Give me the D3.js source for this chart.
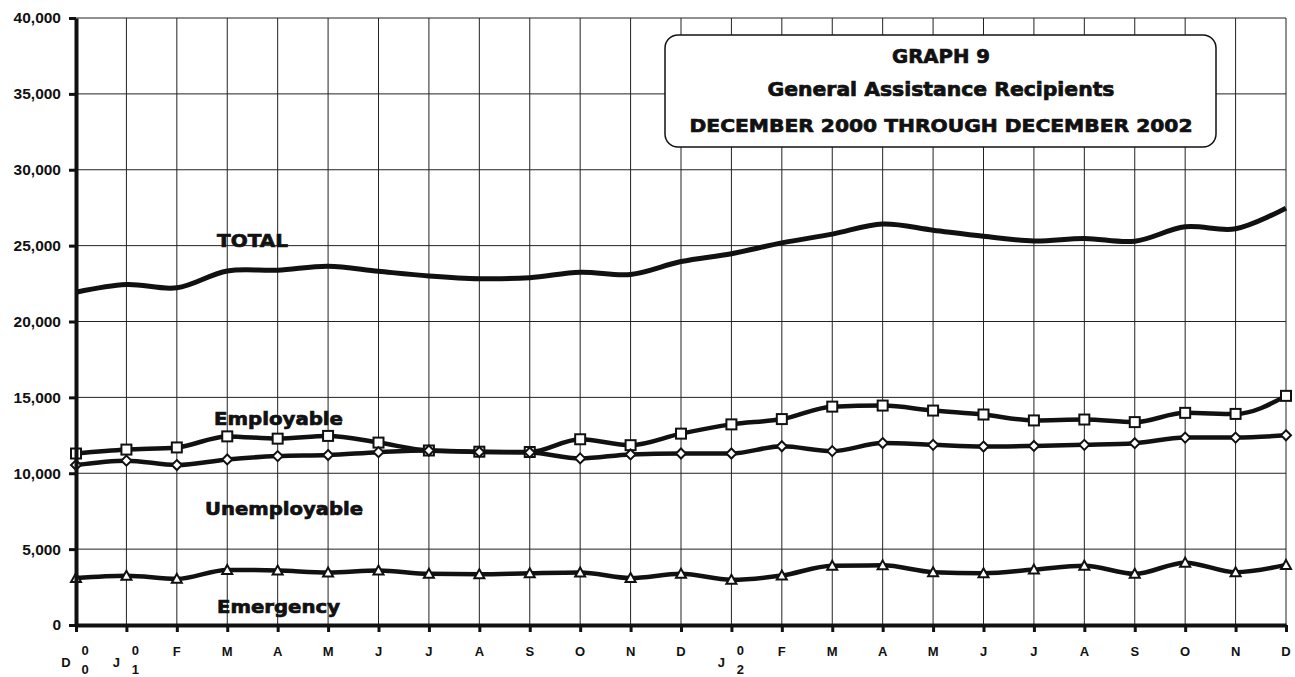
<!DOCTYPE html>
<html>
<head>
<meta charset="utf-8">
<script src="https://cdn.jsdelivr.net/npm/d3@7"></script>
<style>
  body { margin: 0; background: #fff; }
  text { fill: #111; }
</style>
</head>
<body>
<div id="chart"></div>
<script>
const width = 1295, height = 677;

// month letters along the bottom, Dec 2000 .. Dec 2002
const months = ["D","J","F","M","A","M","J","J","A","S","O","N","D","J","F","M","A","M","J","J","A","S","O","N","D"];
const yearIdx = [0, 1, 13];
const yearDigits = ["00", "01", "02"];
const yTicks = [0, 5000, 10000, 15000, 20000, 25000, 30000, 35000, 40000];

const total =        [21930, 22440, 22220, 23330, 23380, 23640, 23310, 23000, 22820, 22890, 23250, 23100, 23950, 24470, 25180, 25760, 26420, 26020, 25620, 25310, 25470, 25290, 26240, 26110, 27470];
const employable =   [11300, 11560, 11700, 12430, 12280, 12460, 12020, 11500, 11420, 11400, 12240, 11850, 12610, 13220, 13570, 14390, 14460, 14130, 13870, 13480, 13540, 13370, 13980, 13910, 15100];
const unemployable = [10540, 10830, 10540, 10910, 11130, 11200, 11390, 11500, 11400, 11370, 10980, 11240, 11300, 11300, 11780, 11460, 11990, 11870, 11760, 11800, 11870, 11980, 12350, 12350, 12500];
const emergency =    [3090, 3240, 3040, 3630, 3590, 3460, 3590, 3370, 3340, 3410, 3460, 3090, 3370, 2980, 3260, 3910, 3930, 3480, 3410, 3650, 3910, 3370, 4110, 3480, 3960];

const titleLines = ["GRAPH 9", "General Assistance Recipients", "DECEMBER 2000 THROUGH DECEMBER 2002"];

const svg = d3.select("#chart")
    .append("svg")
    .attr("width", width)
    .attr("height", height);

svg.append("rect").attr("width", width).attr("height", height).attr("fill", "#fff");

const x = d3.scaleLinear().domain([0, months.length - 1]).range([76, 1286]);
const y = d3.scaleLinear().domain([0, 40000]).range([625, 18]);

// grid
svg.append("g")
    .selectAll("line")
    .data(d3.range(1, months.length))
    .join("line")
    .attr("x1", d => x(d)).attr("x2", d => x(d))
    .attr("y1", y(40000)).attr("y2", y(0))
    .attr("stroke", "#222").attr("stroke-width", 1);

svg.append("g")
    .selectAll("line")
    .data(yTicks.slice(1))
    .join("line")
    .attr("x1", x(0)).attr("x2", x(months.length - 1))
    .attr("y1", d => y(d)).attr("y2", d => y(d))
    .attr("stroke", "#222").attr("stroke-width", 1);

// title box
const box = svg.append("g");
box.append("rect")
    .attr("x", 665).attr("y", 35)
    .attr("width", 551).attr("height", 112)
    .attr("rx", 13)
    .attr("fill", "#fff").attr("stroke", "#111").attr("stroke-width", 1.5);

const titleY = [63, 96, 132], titleW = [98, 347, 503], titleSize = [19, 19, 18.5];
box.selectAll("text")
    .data(titleLines)
    .join("text")
    .attr("x", 941)
    .attr("y", (d, i) => titleY[i])
    .attr("text-anchor", "middle")
    .attr("font-family", "DejaVu Sans, sans-serif")
    .attr("font-weight", "bold")
    .attr("font-size", (d, i) => titleSize[i])
    .attr("stroke", "#111").attr("stroke-width", 0.7)
    .attr("textLength", (d, i) => titleW[i])
    .attr("lengthAdjust", "spacingAndGlyphs")
    .text(d => d);

// lines
const smooth = d3.line()
    .x((d, i) => x(i))
    .y(d => y(d))
    .curve(d3.curveCatmullRom.alpha(0.5));

const soft = d3.line()
    .x((d, i) => x(i))
    .y(d => y(d))
    .curve(d3.curveMonotoneX);

svg.append("path")
    .datum(total)
    .attr("fill", "none")
    .attr("stroke", "#111")
    .attr("stroke-width", 5)
    .attr("d", smooth);

[employable, unemployable, emergency].forEach(s => {
    svg.append("path")
        .datum(s)
        .attr("fill", "none")
        .attr("stroke", "#111")
        .attr("stroke-width", 4.5)
        .attr("d", soft);
});

// markers
svg.append("g")
    .selectAll("rect")
    .data(employable)
    .join("rect")
    .attr("x", (d, i) => x(i) - 5)
    .attr("y", d => y(d) - 5)
    .attr("width", 10).attr("height", 10)
    .attr("fill", "#fff").attr("stroke", "#111").attr("stroke-width", 2);

svg.append("g")
    .selectAll("path")
    .data(unemployable)
    .join("path")
    .attr("transform", (d, i) => `translate(${x(i)},${y(d)})`)
    .attr("d", "M0,-5L5,0L0,5L-5,0Z")
    .attr("fill", "#fff").attr("stroke", "#111").attr("stroke-width", 2);

svg.append("g")
    .selectAll("path")
    .data(emergency)
    .join("path")
    .attr("transform", (d, i) => `translate(${x(i)},${y(d)})`)
    .attr("d", "M0,-5L5,4L-5,4Z")
    .attr("fill", "#fff").attr("stroke", "#111").attr("stroke-width", 2);

// axes
const yAxis = svg.append("g")
    .attr("transform", `translate(${x(0)},0)`)
    .call(d3.axisLeft(y).tickValues(yTicks).tickSize(7).tickSizeOuter(0).tickPadding(8).tickFormat(d3.format(",")));
yAxis.select(".domain").attr("stroke", "#111").attr("stroke-width", 4);
yAxis.selectAll(".tick line").attr("stroke", "#111").attr("stroke-width", 3);
yAxis.selectAll(".tick text")
    .attr("font-family", "Liberation Sans, Arial, sans-serif")
    .attr("font-weight", "bold")
    .attr("font-size", 15.5)
    .attr("fill", "#111");

const xAxis = svg.append("g")
    .attr("transform", `translate(0,${y(0)})`)
    .call(d3.axisBottom(x).tickValues(d3.range(months.length)).tickSize(7).tickSizeOuter(0).tickFormat(""));
xAxis.select(".domain").attr("stroke", "#111").attr("stroke-width", 4);
xAxis.selectAll(".tick line").attr("stroke", "#111").attr("stroke-width", 3);

const xl = svg.append("g")
    .attr("font-family", "Liberation Sans, Arial, sans-serif")
    .attr("font-weight", "bold")
    .attr("font-size", 13)
    .attr("text-anchor", "middle");

xl.selectAll("text.m")
    .data(months)
    .join("text")
    .attr("class", "m")
    .attr("x", (d, i) => yearIdx.includes(i) ? x(i) - 10 : x(i))
    .attr("y", (d, i) => yearIdx.includes(i) ? 667 : 656)
    .text(d => d);

yearIdx.forEach((idx, k) => {
    yearDigits[k].split("").forEach((ch, j) => {
        xl.append("text")
            .attr("x", x(idx) + 9)
            .attr("y", 655 + j * 19)
            .text(ch);
    });
});

// series labels
const labels = [
    {text: "TOTAL", x: 217, y: 247, w: 71},
    {text: "Employable", x: 214, y: 425, w: 129},
    {text: "Unemployable", x: 205, y: 515, w: 158},
    {text: "Emergency", x: 217, y: 613, w: 123}
];
svg.append("g")
    .selectAll("text")
    .data(labels)
    .join("text")
    .attr("x", d => d.x)
    .attr("y", d => d.y)
    .attr("font-family", "DejaVu Sans, sans-serif")
    .attr("font-weight", "bold")
    .attr("font-size", 18)
    .attr("stroke", "#111").attr("stroke-width", 0.7)
    .attr("textLength", d => d.w)
    .attr("lengthAdjust", "spacingAndGlyphs")
    .text(d => d.text);
</script>
</body>
</html>
